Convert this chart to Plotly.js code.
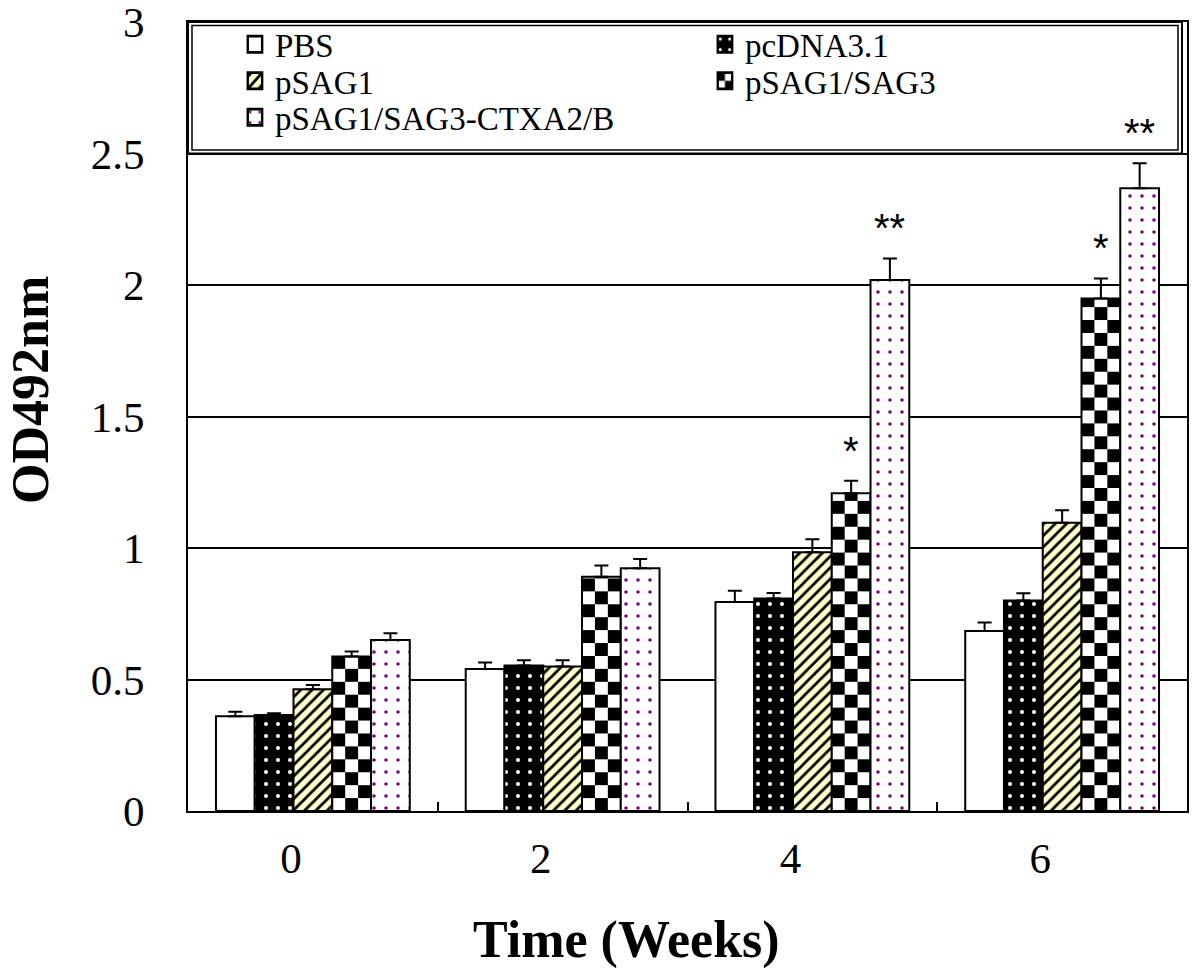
<!DOCTYPE html>
<html>
<head>
<meta charset="utf-8">
<script src="https://cdn.plot.ly/plotly-3.0.1.min.js"></script>
<style>
  html, body { margin: 0; padding: 0; background: #fff; }
  #chart { width: 1200px; height: 977px; }
</style>
</head>
<body>
<div id="chart"></div>
<script>
// ---- data ----
const weeks = ['0', '2', '4', '6'];
const seriesNames = ['PBS', 'pcDNA3.1', 'pSAG1', 'pSAG1/SAG3', 'pSAG1/SAG3-CTXA2/B'];
const pbs       = [0.360, 0.540, 0.795, 0.684];
const pbsErr    = [0.017, 0.025, 0.042, 0.033];
const pcdna     = [0.365, 0.553, 0.808, 0.800];
const pcdnaErr  = [0.007, 0.020, 0.021, 0.028];
const psag1     = [0.463, 0.549, 0.984, 1.096];
const psag1Err  = [0.016, 0.024, 0.049, 0.048];
const psag13    = [0.587, 0.891, 1.208, 1.949];
const psag13Err = [0.019, 0.042, 0.048, 0.076];
const ctxa      = [0.650, 0.923, 2.019, 2.368];
const ctxaErr   = [0.026, 0.035, 0.082, 0.095];
const yTickVals = [0, 0.5, 1, 1.5, 2, 2.5, 3];
const yTickText = ['0', '0.5', '1', '1.5', '2', '2.5', '3'];
// significance marks: week index, series index, label
const sigWeek   = [2, 2, 3, 3];
const sigSeries = [3, 4, 3, 4];
const sigText   = ['*', '**', '*', '**'];

const values = [pbs, pcdna, psag1, psag13, ctxa];
const errors = [pbsErr, pcdnaErr, psag1Err, psag13Err, ctxaErr];

const BARGAP = 0.224;
const SERIF = 'Liberation Serif, Times New Roman, serif';
const LEGEND_ROW_PITCH = 36.5;
const LEGEND_ROW_LIFT = 8;

const patterns = [
  { shape: '', bgcolor: '#ffffff', fgcolor: '#ffffff' },
  { shape: '.', bgcolor: '#000000', fgcolor: '#ffffff', size: 12, solidity: 0.09, fillmode: 'replace' },
  { shape: '/', bgcolor: '#ffffcc', fgcolor: '#000000', size: 8, solidity: 0.35, fillmode: 'replace' },
  { shape: '+', bgcolor: '#ffffff', fgcolor: '#000000', size: 24, solidity: 0.5, fillmode: 'replace' },
  { shape: '.', bgcolor: '#ffffff', fgcolor: '#800080', size: 12, solidity: 0.07, fillmode: 'replace' }
];

const traces = seriesNames.map((name, i) => ({
  type: 'bar',
  name: name,
  x: weeks,
  y: values[i],
  marker: {
    color: patterns[i].bgcolor,
    line: { color: '#000', width: 2 },
    pattern: patterns[i]
  },
  error_y: {
    type: 'data',
    symmetric: false,
    array: errors[i],
    arrayminus: errors[i].map(() => 0),
    color: '#000',
    thickness: 2,
    width: 7
  },
  hoverinfo: 'skip'
}));

const barW = (1 - BARGAP) / seriesNames.length;
const annotations = sigText.map((t, k) => {
  const s = sigSeries[k], w = sigWeek[k];
  return {
    x: w + (s - (seriesNames.length - 1) / 2) * barW,
    y: values[s][w] + errors[s][w],
    xref: 'x', yref: 'y',
    text: t,
    showarrow: false,
    yanchor: 'bottom',
    yshift: 6,
    font: { family: 'Liberation Sans, Arial, sans-serif', size: 40, color: '#000' }
  };
});

annotations.push({
  text: '<b>Time (Weeks)</b>',
  xref: 'paper', yref: 'paper',
  x: (626 - 188) / 999, y: -(940 - 811) / 789,
  xanchor: 'center', yanchor: 'middle',
  showarrow: false,
  font: { family: SERIF, size: 52, color: '#000' }
});
annotations.push({
  text: '<b>OD492nm</b>',
  xref: 'paper', yref: 'paper',
  x: -(188 - 31) / 999, y: (811 - 390) / 789,
  xanchor: 'center', yanchor: 'middle',
  textangle: -90,
  showarrow: false,
  font: { family: SERIF, size: 52, color: '#000' }
});

const layout = {
  width: 1200,
  height: 977,
  margin: { l: 188, r: 13, t: 22, b: 166 },
  paper_bgcolor: '#fff',
  plot_bgcolor: '#fff',
  barmode: 'group',
  bargap: BARGAP,
  bargroupgap: 0,
  showlegend: true,
  legend: {
    orientation: 'h',
    x: 0.047, xanchor: 'left',
    y: 0.997, yanchor: 'top',
    bgcolor: 'rgba(0,0,0,0)',
    borderwidth: 0,
    font: { family: SERIF, size: 33, color: '#000' },
    entrywidth: 425,
    entrywidthmode: 'pixels',
    traceorder: 'normal'
  },
  xaxis: {
    type: 'category',
    tickson: 'boundaries',
    ticks: 'inside',
    ticklen: 9,
    tickwidth: 2,
    tickcolor: '#000',
    showline: true,
    linecolor: '#000',
    linewidth: 2,
    mirror: true,
    showgrid: false,
    ticklabelshift: -22,
    ticklabelstandoff: 8,
    tickfont: { family: SERIF, size: 43, color: '#000' }
  },
  yaxis: {
    range: [0, 3],
    tickvals: yTickVals,
    ticktext: yTickText,
    ticks: '',
    showline: true,
    linecolor: '#000',
    linewidth: 2,
    mirror: true,
    showgrid: true,
    gridcolor: '#000',
    gridwidth: 2,
    zeroline: false,
    ticklabelstandoff: 33,
    ticklabeloverflow: 'allow',
    tickfont: { family: SERIF, size: 43, color: '#000' }
  },
  shapes: [
    { type: 'rect', xref: 'paper', yref: 'paper', x0: 0, x1: 0.995, y0: 2.5 / 3, y1: 1,
      line: { color: '#000', width: 2 }, layer: 'above' },
    { type: 'rect', xref: 'paper', yref: 'paper', x0: 0.004, x1: 0.991, y0: 0.8378, y1: 0.9956,
      line: { color: '#000', width: 1.5 }, layer: 'above' }
  ],
  annotations: annotations
};

function tightenLegend(gd) {
  const items = Array.from(gd.querySelectorAll('.legend .traces'));
  const parsed = items.map(el => {
    const m = /translate\(\s*([-\d.]+)[ ,]+([-\d.]+)\s*\)/.exec(el.getAttribute('transform') || '');
    return m ? { el, x: parseFloat(m[1]), y: parseFloat(m[2]) } : null;
  }).filter(Boolean);
  if (!parsed.length) return;
  const rows = Array.from(new Set(parsed.map(p => p.y))).sort((a, b) => a - b);
  const y0 = rows[0] - LEGEND_ROW_LIFT;
  parsed.forEach(p => {
    const r = rows.indexOf(p.y);
    p.el.setAttribute('transform', 'translate(' + p.x + ',' + (y0 + r * LEGEND_ROW_PITCH) + ')');
    p.el.querySelectorAll('.legendpoints path').forEach(path => {
      const t = path.getAttribute('transform') || '';
      path.setAttribute('transform', t + ' scale(1.2,1.35)');
    });
  });
}

function applyChecker(gd) {
  const defs = gd.querySelector('.main-svg defs');
  if (!defs) return;
  const NS = 'http://www.w3.org/2000/svg';
  let n = 0;
  function makePattern(x, y, s) {
    const id = 'chk' + (n++);
    const p = document.createElementNS(NS, 'pattern');
    p.setAttribute('id', id);
    p.setAttribute('patternUnits', 'userSpaceOnUse');
    p.setAttribute('x', x); p.setAttribute('y', y);
    p.setAttribute('width', 2 * s); p.setAttribute('height', 2 * s);
    const bg = document.createElementNS(NS, 'rect');
    bg.setAttribute('width', 2 * s); bg.setAttribute('height', 2 * s); bg.setAttribute('fill', '#fff');
    p.appendChild(bg);
    [[0, 0], [s, s]].forEach(([a, b]) => {
      const r = document.createElementNS(NS, 'rect');
      r.setAttribute('x', a); r.setAttribute('y', b);
      r.setAttribute('width', s); r.setAttribute('height', s);
      r.setAttribute('fill', '#000');
      p.appendChild(r);
    });
    defs.appendChild(p);
    return id;
  }
  const barTraces = gd.querySelectorAll('.barlayer .trace');
  const t3 = barTraces[3];
  if (t3) {
    t3.querySelectorAll('.point path').forEach(path => {
      const bb = path.getBBox();
      if (bb.width <= 0) return;
      const s = bb.width / 3;
      const id = makePattern(bb.x, bb.y + bb.height, s);
      path.style.fill = 'url(#' + id + ')';
    });
  }
  gd.querySelectorAll('.legend .traces').forEach(tr => {
    const txt = tr.querySelector('.legendtext');
    if (txt && txt.textContent === seriesNames[3]) {
      tr.querySelectorAll('.legendpoints path').forEach(path => {
        const bb = path.getBBox();
        if (bb.width <= 0) return;
        const id = makePattern(bb.x, bb.y, bb.width / 2);
        path.style.fill = 'url(#' + id + ')';
      });
    }
  });
}

const gd = document.getElementById('chart');
Plotly.newPlot(gd, traces, layout, { displayModeBar: false, staticPlot: true })
  .then(() => { applyChecker(gd); tightenLegend(gd); });
</script>
</body>
</html>
